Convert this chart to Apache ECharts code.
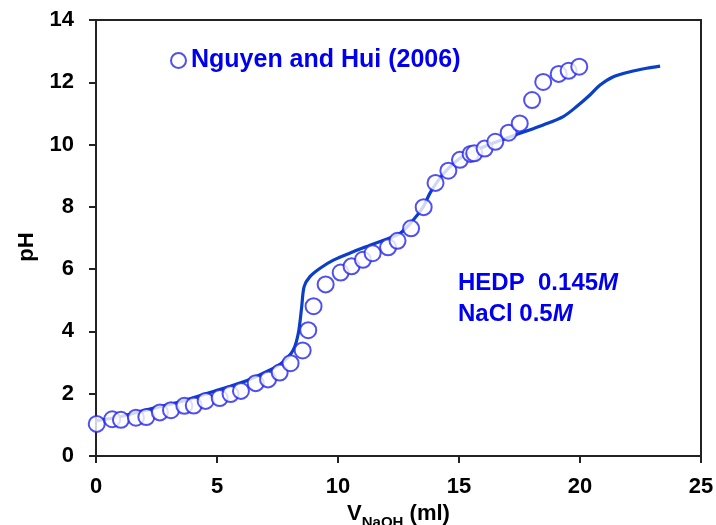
<!DOCTYPE html>
<html><head><meta charset="utf-8">
<script src="https://cdn.jsdelivr.net/npm/echarts@6/dist/echarts.min.js"></script>
<style>html,body{margin:0;padding:0;background:#fff}#c{width:716px;height:525px}</style>
</head><body><div id="c"></div>
<script>
// Experimental data (Nguyen and Hui 2006): volume NaOH (ml), pH
const expV  = [0.03,0.67,1.03,1.65,2.08,2.64,3.10,3.65,4.04,4.53,5.11,5.56,5.99,6.60,7.11,7.59,8.04,8.54,8.77,8.99,9.49,10.11,10.56,11.03,11.43,12.07,12.46,13.02,13.54,14.03,14.56,15.04,15.48,15.63,16.06,16.50,17.05,17.51,18.02,18.48,19.12,19.53,19.97];
const expPH = [1.03,1.18,1.16,1.23,1.25,1.40,1.47,1.61,1.62,1.77,1.86,1.99,2.09,2.34,2.46,2.68,2.98,3.39,4.04,4.81,5.51,5.89,6.09,6.30,6.51,6.70,6.91,7.31,7.99,8.77,9.16,9.51,9.70,9.72,9.87,10.09,10.38,10.68,11.43,12.01,12.27,12.37,12.50];
// Model curve
const modV  = [0,0.99,2.09,3.47,4.85,6.22,7.19,7.74,8.15,8.36,8.50,8.60,8.84,9.26,9.81,10.63,11.46,12.56,13.11,13.53,13.80,14.15,14.49,15.04,15.73,16.56,17.52,18.48,19.31,19.86,20.41,20.83,21.38,22.07,22.75,23.31];
const modPH = [1.13,1.26,1.48,1.74,2.07,2.42,2.76,3.03,3.40,3.94,4.79,5.44,5.76,6.03,6.29,6.56,6.81,7.15,7.58,8.01,8.44,8.86,9.18,9.56,9.83,10.09,10.36,10.63,10.90,11.22,11.59,11.91,12.18,12.34,12.45,12.52];
const xTicks = {min:0,max:25,interval:5};
const yTicks = {min:0,max:14,interval:2};

const chart = echarts.init(document.getElementById('c'));
const font = 'Liberation Sans, Arial, sans-serif';
chart.setOption({
  animation:false,
  backgroundColor:'#fff',
  grid:{left:96,right:15,top:20,bottom:69,containLabel:false,outerBoundsMode:'none',show:true,borderColor:'#222',borderWidth:2},
  legend:{
    left:170, top:48, padding:0, itemWidth:15, itemHeight:15, itemGap:7,
    data:[{name:'Nguyen and Hui (2006)', icon:'emptyCircle'}],
    textStyle:{color:'#0000ee',fontFamily:font,fontWeight:'bold',fontSize:25}
  },
  xAxis:{
    type:'value', min:xTicks.min, max:xTicks.max, interval:xTicks.interval,
    axisLine:{lineStyle:{color:'#222',width:2}},
    axisTick:{show:true,length:7,lineStyle:{color:'#222',width:2}},
    splitLine:{show:false},
    axisLabel:{color:'#000',fontFamily:font,fontWeight:'bold',fontSize:22,margin:20},
    name:'{v|V}{s|NaOH}{v| (ml)}', nameLocation:'middle', nameGap:37,
    nameTextStyle:{rich:{
      v:{fontFamily:font,fontWeight:'bold',fontSize:22,color:'#000',verticalAlign:'bottom',lineHeight:24},
      s:{fontFamily:font,fontWeight:'bold',fontSize:15,color:'#000',verticalAlign:'bottom',lineHeight:16,padding:[0,0,-5,0]}
    }}
  },
  yAxis:{
    type:'value', min:yTicks.min, max:yTicks.max, interval:yTicks.interval,
    axisLine:{lineStyle:{color:'#222',width:2}},
    axisTick:{show:true,length:7,lineStyle:{color:'#222',width:2}},
    splitLine:{show:false},
    axisLabel:{color:'#000',fontFamily:font,fontWeight:'bold',fontSize:22,margin:22}
  },
  graphic:[{
    type:'text', x:27, y:247, rotation:Math.PI/2,
    style:{text:'pH', fill:'#000', font:'bold 22px '+font, align:'center', verticalAlign:'middle'}
  },{
    type:'text', left:458, top:271,
    style:{
      text:'{a|HEDP  0.145}{i|M}\n{a|NaCl 0.5}{i|M}',
      rich:{
        a:{fontFamily:font,fontWeight:'bold',fontSize:24,fill:'#0000ee',lineHeight:31},
        i:{fontFamily:font,fontWeight:'bold',fontStyle:'italic',fontSize:24,fill:'#0000ee',lineHeight:31}
      }
    }
  }],
  series:[
    {
      name:'model', type:'line', smooth:0.3, showSymbol:false, symbol:'none',
      data: modV.map((v,i)=>[v,modPH[i]]),
      lineStyle:{color:'#0a3fc8',width:3.2}, z:2
    },
    {
      name:'Nguyen and Hui (2006)', type:'scatter', symbol:'emptyCircle', symbolSize:16,
      data: expV.map((v,i)=>[v,expPH[i]]),
      itemStyle:{color:'#2424ee',borderColor:'#2424ee',borderWidth:1.5}, z:3
    }
  ]
});
</script></body></html>
